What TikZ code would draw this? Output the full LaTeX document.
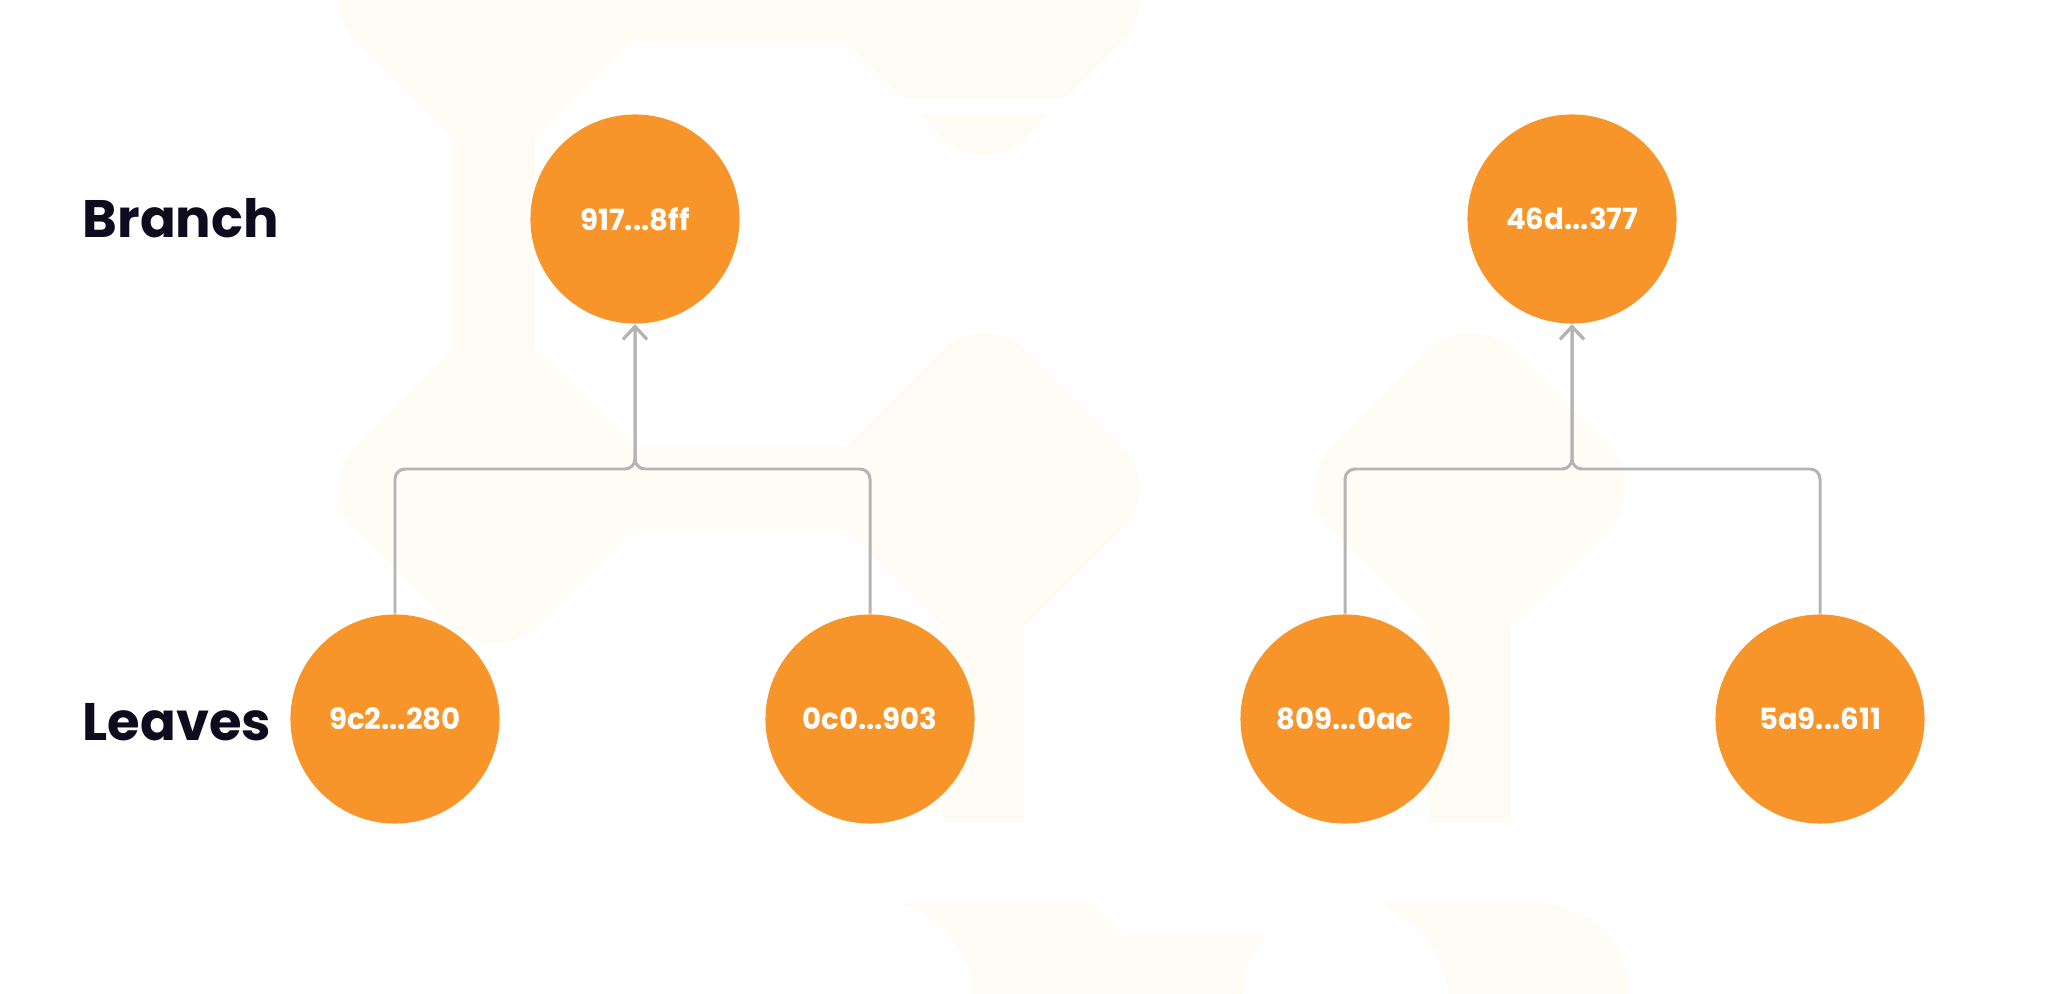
\documentclass[tikz,border=0pt]{standalone}
\usepackage{fontspec}
\setmainfont{Poppins}
\usetikzlibrary{arrows.meta}
\definecolor{hashorange}{HTML}{F7952A}
\definecolor{linegray}{HTML}{B4B4B4}
\definecolor{inkdark}{HTML}{0E0B1F}
\definecolor{creambg}{HTML}{FFFBF5}
\begin{document}
\begin{tikzpicture}[x=0.01cm,y=-0.01cm,
  hash/.style={circle,fill=hashorange,text=white,inner sep=0pt,minimum size=2.09cm,
    font=\fontsize{8.3}{10}\selectfont\bfseries},
  level/.style={anchor=base west,text=inkdark,inner sep=0pt,
    font=\fontsize{15}{18}\selectfont\bfseries},
  link/.style={draw=linegray,line width=0.85pt,rounded corners=1mm,
    -{Straight Barb[length=1.3mm,width=2.4mm]}},
  bg/.style={fill=creambg}]
\useasboundingbox (0,0) rectangle (2048,994);
\foreach \cx/\cy in {494/0,984/0,494/488,984/488,1470/488}{
  \fill[bg,rounded corners=6mm] ({\cx-180},\cy) -- (\cx,{\cy-180}) -- ({\cx+180},\cy) -- (\cx,{\cy+180}) -- cycle;
}
\fill[bg] (494,-41) rectangle (984,41);
\fill[bg] (494,447) rectangle (984,529);
\fill[bg] (453,0) rectangle (535,488);
\fill[bg] (944,488) rectangle (1024,823);
\fill[bg] (1429,488) rectangle (1511,823);
\fill[white] (880,98) rectangle (1090,115);
\fill[bg] (870,903) -- (1089,903) -- (1121,935) -- (1345,935) -- (1345,994) -- (870,994) -- cycle;
\fill[bg,rounded corners=4mm] (1345,903) -- (1577,903) -- (1630,956) -- (1630,1040) -- (1345,1040) -- cycle;
\fill[white] (870,1003) circle[radius=104];
\fill[white] (1345,1003) circle[radius=104];
\node[level] (branch) at (82,238) {Branch};
\node[level] (leaves) at (82,740) {Leaves};
\node[hash] (b1) at (635,219) {917...8ff};
\node[hash] (b2) at (1572,219) {46d...377};
\node[hash] (l1) at (395,719) {9c2...280};
\node[hash] (l2) at (870,719) {0c0...903};
\node[hash] (l3) at (1345,719) {809...0ac};
\node[hash] (l4) at (1820,719) {5a9...611};
\coordinate (j1) at (635,469);
\coordinate (j2) at (1572,469);
\draw[link] (l1.north) |- (j1) -- (b1.south);
\draw[link] (l2.north) |- (j1) -- (b1.south);
\draw[link] (l3.north) |- (j2) -- (b2.south);
\draw[link] (l4.north) |- (j2) -- (b2.south);
\end{tikzpicture}
\end{document}
